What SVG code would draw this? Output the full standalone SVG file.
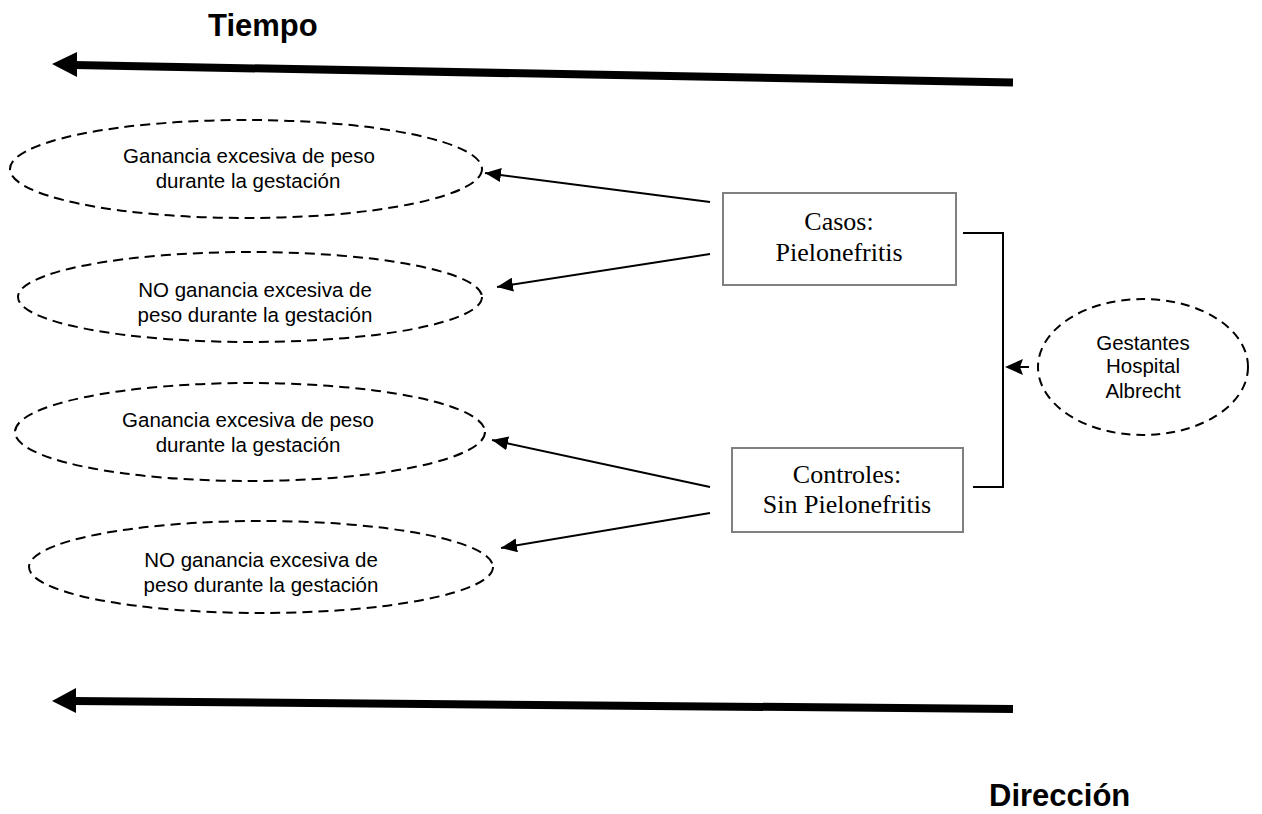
<svg xmlns="http://www.w3.org/2000/svg" width="1262" height="814" viewBox="0 0 1262 814">
<style>
.ell{fill:none;stroke:#000;stroke-width:2;stroke-dasharray:10 6}
.et{font-family:"Liberation Sans",Arial,sans-serif;font-size:20.5px;fill:#000;text-anchor:middle}
.box{fill:#fff;stroke:#808080;stroke-width:2}
.bt{font-family:"Liberation Serif","Times New Roman",serif;font-size:26px;fill:#000;text-anchor:middle}
.big{font-family:"Liberation Sans",Arial,sans-serif;font-size:31px;font-weight:bold;fill:#000}
.con{fill:none;stroke:#000;stroke-width:2}
</style>
<defs>
<marker id="ah" markerUnits="userSpaceOnUse" markerWidth="18" markerHeight="14" refX="16" refY="7" orient="auto">
<path d="M0,0 L16,7 L0,14 Z" fill="#000"/>
</marker>
</defs>
<rect width="1262" height="814" fill="#fff"/>
<g id="labels">
<text class="big" x="208" y="36">Tiempo</text>
<text class="big" x="989" y="806">Dirección</text>
</g>
<g id="e1">
<ellipse class="ell" cx="246" cy="169" rx="236" ry="49"/>
<text class="et" x="249" y="163">Ganancia excesiva de peso</text>
<text class="et" x="248" y="188">durante la gestación</text>
</g>
<g id="e2">
<ellipse class="ell" cx="250" cy="297" rx="232" ry="45"/>
<text class="et" x="255" y="297">NO ganancia excesiva de</text>
<text class="et" x="255" y="322">peso durante la gestación</text>
</g>
<g id="e3">
<ellipse class="ell" cx="250" cy="432" rx="235" ry="49"/>
<text class="et" x="248" y="427">Ganancia excesiva de peso</text>
<text class="et" x="248" y="452">durante la gestación</text>
</g>
<g id="e4">
<ellipse class="ell" cx="261" cy="567" rx="232" ry="46"/>
<text class="et" x="261" y="567">NO ganancia excesiva de</text>
<text class="et" x="261" y="592">peso durante la gestación</text>
</g>
<g id="casos">
<rect class="box" x="723" y="193" width="233" height="92"/>
<text class="bt" x="839" y="230">Casos:</text>
<text class="bt" x="839" y="261">Pielonefritis</text>
</g>
<g id="controles">
<rect class="box" x="732" y="448" width="231" height="84"/>
<text class="bt" x="847" y="483">Controles:</text>
<text class="bt" x="847" y="513">Sin Pielonefritis</text>
</g>
<g id="gestantes">
<ellipse class="ell" cx="1143" cy="367" rx="105" ry="68" style="stroke-dasharray:9 6"/>
<text class="et" x="1143" y="350">Gestantes</text>
<text class="et" x="1143" y="373">Hospital</text>
<text class="et" x="1143" y="398">Albrecht</text>
</g>
<g id="connectors">
<polyline class="con" points="963,233 1003,233 1003,487 973,487"/>
<line class="con" x1="1029" y1="367" x2="1020" y2="367"/>
<polygon points="1005,367 1023,359 1020,367 1023,375" fill="#000"/>
<line class="con" x1="710" y1="202" x2="485" y2="173" marker-end="url(#ah)"/>
<line class="con" x1="710" y1="254" x2="497" y2="287" marker-end="url(#ah)"/>
<line class="con" x1="710" y1="487" x2="492" y2="440" marker-end="url(#ah)"/>
<line class="con" x1="710" y1="513" x2="501" y2="548" marker-end="url(#ah)"/>
<line x1="74" y1="65" x2="1013" y2="82.5" stroke="#000" stroke-width="8"/>
<polygon points="52,64 77,52 77,77" fill="#000"/>
<line x1="73" y1="701" x2="1013" y2="709" stroke="#000" stroke-width="8"/>
<polygon points="52,701 76,688 76,713" fill="#000"/>
</g>
</svg>
